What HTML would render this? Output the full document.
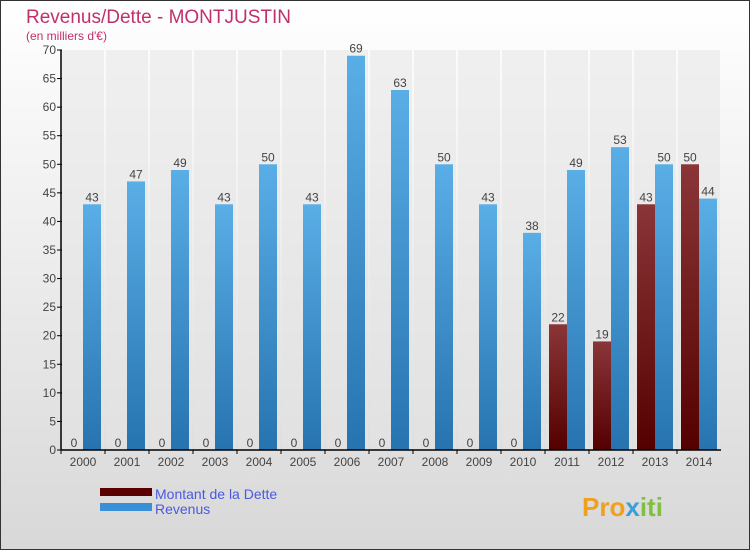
<!DOCTYPE html>
<html><head><meta charset="utf-8"><style>
body{margin:0;width:750px;height:550px;overflow:hidden;font-family:"Liberation Sans",sans-serif}
</style></head><body>
<svg width="750" height="550" xmlns="http://www.w3.org/2000/svg" id="chart">
<defs>
<linearGradient id="bg" x1="0" y1="0" x2="0" y2="1"><stop offset="0" stop-color="#ffffff"/><stop offset="1" stop-color="#d8d8d8"/></linearGradient>
<linearGradient id="gd" x1="0" y1="0" x2="0" y2="1"><stop offset="0" stop-color="#8a3638"/><stop offset="1" stop-color="#550000"/></linearGradient>
<linearGradient id="gr" x1="0" y1="0" x2="0" y2="1"><stop offset="0" stop-color="#5aaee6"/><stop offset="1" stop-color="#2673b0"/></linearGradient>
</defs>
<rect x="0.5" y="0.5" width="749" height="549" fill="url(#bg)" stroke="#333"/>
<text x="26" y="23" font-size="19" fill="#c0306a">Revenus/Dette - MONTJUSTIN</text>
<text x="26" y="40" font-size="12" fill="#c0306a">(en milliers d'€)</text>
<g id="grid"></g><g id="bars"></g><g id="axes"></g>
<rect x="100" y="488" width="52" height="8" fill="#5a0000"/>
<text x="155" y="499" font-size="14" fill="#4a5ae0">Montant de la Dette</text>
<rect x="100" y="503" width="52" height="8" fill="#3a90d8"/>
<text x="155" y="514" font-size="14" fill="#4a5ae0">Revenus</text>
<text x="582" y="516" font-size="26" font-weight="bold" fill="#f0a020">Pro<tspan fill="#3aa0d8">x</tspan><tspan fill="#80c040">iti</tspan></text>
</svg>
<script>
const years=["2000","2001","2002","2003","2004","2005","2006","2007","2008","2009","2010","2011","2012","2013","2014"];
const dette=[0,0,0,0,0,0,0,0,0,0,0,22,19,43,50];
const revenus=[43,47,49,43,50,43,69,63,50,43,38,49,53,50,44];
const yTicks=[0,5,10,15,20,25,30,35,40,45,50,55,60,65,70];
const NS="http://www.w3.org/2000/svg";
const x0=61,step=44,yBase=450,yTop=50,yMax=70;
const y=v=>yBase-(v/yMax)*(yBase-yTop);
const gx=i=>x0+step*i+22;
function mk(t,a,p){const e=document.createElementNS(NS,t);for(const k in a)e.setAttribute(k,a[k]);p.appendChild(e);return e;}
const grid=document.getElementById('grid'),bars=document.getElementById('bars'),axes=document.getElementById('axes');
years.forEach((yr,i)=>{
  const r=mk('rect',{x:gx(i)-22+1,y:yTop,width:42,height:yBase-yTop,fill:'#e4e4e4',opacity:0.5},grid);
  
  
  const d=mk('rect',{x:gx(i)-18,y:y(dette[i]),width:18,height:yBase-y(dette[i]),fill:'url(#gd)'},bars);
  
  
  const rv=mk('rect',{x:gx(i),y:y(revenus[i]),width:18,height:yBase-y(revenus[i]),fill:'url(#gr)'},bars);
  
  
  const t1=mk('text',{x:gx(i)-9,y:y(dette[i])-3,'font-size':12,fill:'#444','text-anchor':'middle'},bars);t1.textContent=dette[i];
  
  
  const t2=mk('text',{x:gx(i)+9,y:y(revenus[i])-3,'font-size':12,fill:'#444','text-anchor':'middle'},bars);t2.textContent=revenus[i];
  
  
  const xl=mk('text',{x:gx(i),y:466,'font-size':12,fill:'#444','text-anchor':'middle'},axes);xl.textContent=yr;
  
  
  mk('line',{x1:gx(i)-22,x2:gx(i)-22,y1:yBase,y2:yBase+4,stroke:'#000'},axes);
});
yTicks.forEach(v=>{
  mk('line',{x1:x0-4,x2:x0+1,y1:y(v),y2:y(v),stroke:'#000'},axes);
  const t=mk('text',{x:x0-5,y:y(v)+4,'font-size':12,fill:'#444','text-anchor':'end'},axes);t.textContent=v;
  
  
});
const ya=mk('line',{x1:x0,x2:x0,y1:yTop,y2:yBase,stroke:'#000','stroke-width':1.5},axes);


const xa=mk('line',{x1:x0,x2:gx(years.length-1)+22,y1:yBase,y2:yBase,stroke:'#000','stroke-width':1.5},axes);


</script>
</body></html>
